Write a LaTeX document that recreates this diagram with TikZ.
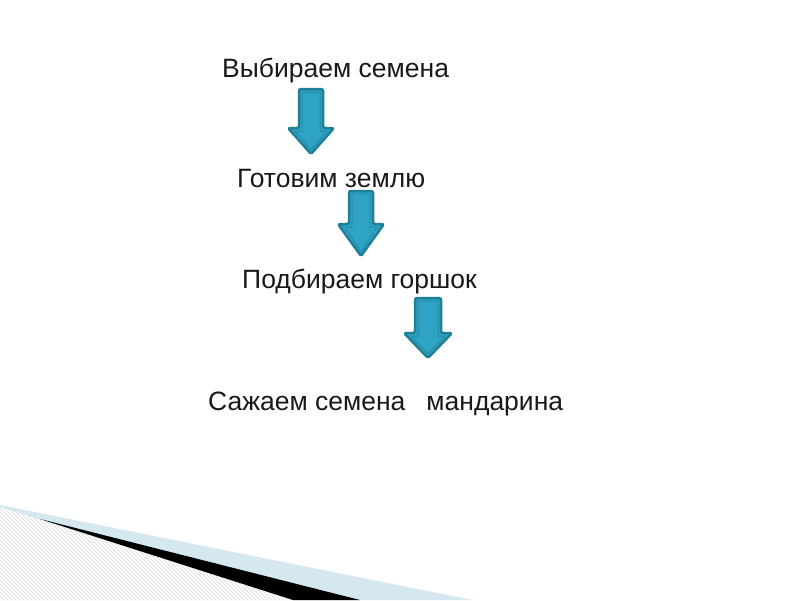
\documentclass[tikz,border=0pt]{standalone}
\usepackage{fontspec}
\setmainfont{Liberation Sans}
\definecolor{arrfill}{HTML}{2EA3C3}
\definecolor{arrline}{HTML}{1F7F96}
\definecolor{bandblue}{HTML}{D5E8EF}
\definecolor{hatchgray}{HTML}{E2E2E2}
\tikzset{
  lbl/.style={anchor=base west, inner sep=0pt, font=\fontsize{26.5}{30}\selectfont, text=black!90},
  blockarrow/.style={fill=arrfill, draw=arrline, line width=2.5pt, line join=round, rounded corners=1.5pt},
  bevel/.style={draw=arrline!60!arrfill, line width=1pt, line join=round}
}
% #1 center x, #2 top y, #3 head start y, #4 tip y, #5 shaft half width, #6 head half width
\newcommand\blockarr[6]{%
  \draw[blockarrow] (#1-#5,#2) -- (#1+#5,#2) -- (#1+#5,#3) -- (#1+#6,#3) -- (#1,#4)
     -- (#1-#6,#3) -- (#1-#5,#3) -- cycle;
  \draw[bevel] (#1-#5+3,#2+3) -- (#1+#5-3,#2+3) -- (#1+#5-3,#3+3) -- (#1+#6-7,#3+3) -- (#1,#4-4)
     -- (#1-#6+7,#3+3) -- (#1-#5+3,#3+3) -- cycle;
}
\begin{document}
\begin{tikzpicture}[x=1pt,y=-1pt]
\useasboundingbox (0,0) rectangle (800,600);
\fill[white] (0,0) rectangle (800,600);
% bottom-left decoration
\fill[bandblue] (0,505) -- (472,600) -- (0,600) -- cycle;
\fill[white] (0,507) -- (293,600) -- (0,600) -- cycle;
\begin{scope}
  \clip (0,507) -- (293,600) -- (0,600) -- cycle;
  \foreach \k in {0,4,...,400} {
    \draw[hatchgray, line width=0.8pt] (\k-100,500) -- (\k,600);
  }
\end{scope}
\fill[black] (40,519) -- (360,600) -- (293,600) -- cycle;
% texts
\node[lbl] (t1) at (222,77) {Выбираем семена};
\node[lbl] (t2) at (237,187) {Готовим землю};
\node[lbl] (t3) at (242,288) {Подбираем горшок};
\node[lbl] (t4) at (208,410) {Сажаем семена\hskip 21pt мандарина};
% arrows
\blockarr{311}{89}{128}{154}{12}{23}
\blockarr{361}{191}{224}{256}{12}{23}
\blockarr{428}{298}{333}{358}{13}{24}
\end{tikzpicture}
\end{document}
